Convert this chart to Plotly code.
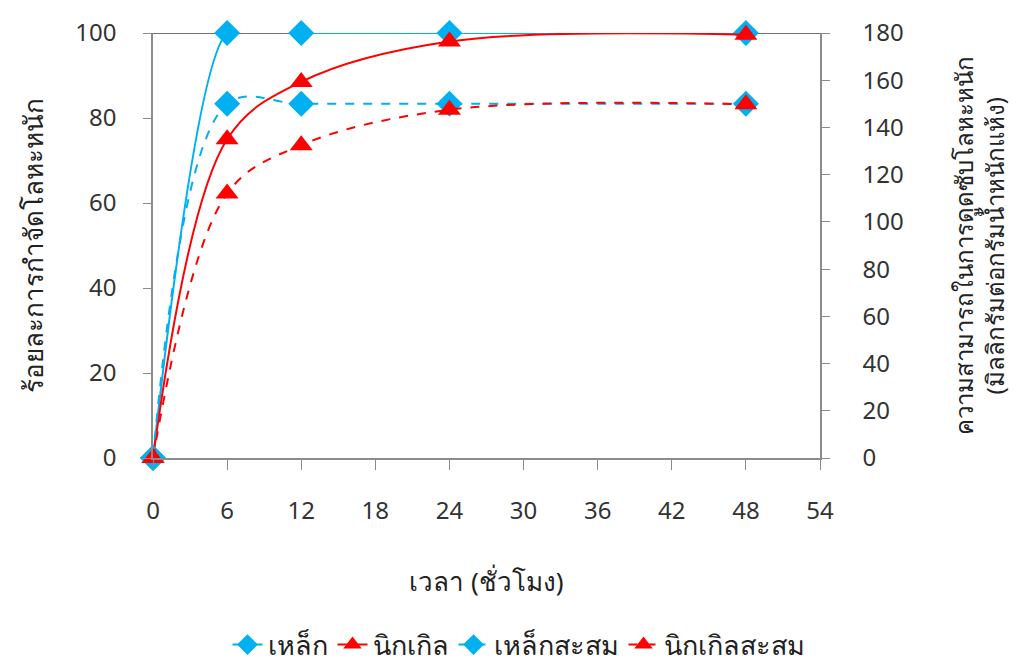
import plotly.graph_objects as go

hours = [0, 6, 12, 24, 48]
iron_pct = [0, 100, 100, 100, 100]
nickel_pct = [0, 75, 88.5, 98, 99.6]
iron_cum = [0, 150, 150, 150, 150]
nickel_cum = [0, 112, 132.5, 147.5, 149.8]

x_ticks = [0, 6, 12, 18, 24, 30, 36, 42, 48, 54]
left_ticks = [0, 20, 40, 60, 80, 100]
right_ticks = [0, 20, 40, 60, 80, 100, 120, 140, 160, 180]

BLUE = "#00b0f0"
RED = "#ff0000"
FONT = "Noto Sans, DejaVu Sans, sans-serif"
AX = "#8c8c8c"
TXT = "#333333"
MS = 20

fig = go.Figure()
fig.add_trace(go.Scatter(x=hours, y=iron_pct, name="เหล็ก", mode="lines+markers",
                         line=dict(color=BLUE, width=2, shape="spline", smoothing=0.6),
                         marker=dict(symbol="diamond", size=MS, color=BLUE), cliponaxis=False))
fig.add_trace(go.Scatter(x=hours, y=nickel_pct, name="นิกเกิล", mode="lines+markers",
                         line=dict(color=RED, width=2, shape="spline", smoothing=1),
                         marker=dict(symbol="triangle-up", size=MS, color=RED), cliponaxis=False))
fig.add_trace(go.Scatter(x=hours, y=iron_cum, name="เหล็กสะสม", mode="lines+markers", yaxis="y2",
                         line=dict(color=BLUE, width=2, dash="dash", shape="spline", smoothing=1),
                         marker=dict(symbol="diamond", size=MS, color=BLUE), cliponaxis=False))
fig.add_trace(go.Scatter(x=hours, y=nickel_cum, name="นิกเกิลสะสม", mode="lines+markers", yaxis="y2",
                         line=dict(color=RED, width=2, dash="dash", shape="spline", smoothing=1),
                         marker=dict(symbol="triangle-up", size=MS, color=RED), cliponaxis=False))

fig.add_shape(type="line", xref="x", yref="y", x0=0, x1=54, y0=100, y1=100,
              line=dict(color="#404040", width=1.5), layer="below")

fig.add_annotation(text="ความสามารถในการดูดซับโลหะหนัก<br>(มิลลิกรัมต่อกรัมน้ำหนักแห้ง)",
                   xref="paper", yref="paper", x=1.238, y=0.5, xanchor="center", yanchor="middle",
                   textangle=-90, showarrow=False, font=dict(size=24, color="#222222"))

fig.update_layout(
    width=1021, height=669,
    paper_bgcolor="white", plot_bgcolor="white",
    margin=dict(l=145, r=209, t=25, b=219, autoexpand=False),
    font=dict(family=FONT, size=24, color=TXT),
    showlegend=True,
    legend=dict(orientation="h", x=0.5, xanchor="center", xref="container", y=-0.44, yanchor="middle",
                font=dict(size=27, color="#222222"), traceorder="normal"),
    xaxis=dict(range=[0, 54], tickvals=x_ticks, showgrid=False, zeroline=False,
               showline=True, linecolor=AX, linewidth=1.5, ticks="outside", ticklen=10,
               tickcolor=AX, tickfont=dict(size=24, color=TXT), ticklabelstandoff=20,
               title=dict(text="เวลา (ชั่วโมง)", font=dict(size=26, color="#222222"), standoff=48)),
    yaxis=dict(range=[0, 100], tickvals=left_ticks, showgrid=False, zeroline=False,
               showline=True, linecolor=AX, linewidth=1.5, ticks="outside", ticklen=8,
               tickcolor=AX, tickfont=dict(size=24, color=TXT), ticklabelstandoff=22,
               title=dict(text="ร้อยละการกำจัดโลหะหนัก", font=dict(size=26, color="#222222"), standoff=24)),
    yaxis2=dict(range=[0, 180], tickvals=right_ticks, overlaying="y", side="right",
                showgrid=False, zeroline=False, showline=True, linecolor=AX, linewidth=1.5,
                ticks="outside", ticklen=8, tickcolor=AX, tickfont=dict(size=24, color=TXT),
                ticklabelstandoff=28),
)

fig.write_html("out.html")
